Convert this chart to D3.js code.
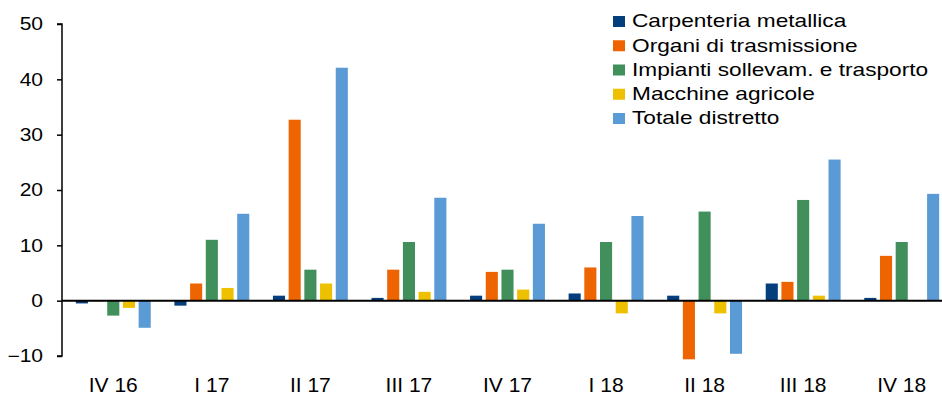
<!DOCTYPE html>
<html>
<head>
<meta charset="utf-8">
<script src="https://cdn.jsdelivr.net/npm/d3@7"></script>
<style>
  html, body { margin: 0; padding: 0; background: #fff; }
  svg { display: block; font-family: "Liberation Sans", Arial, sans-serif; }
</style>
</head>
<body>
<svg id="chart" width="942" height="394"></svg>
<script>
// Quarterly changes (%) by sector of the district
const categories = ["IV 16", "I 17", "II 17", "III 17", "IV 17", "I 18", "II 18", "III 18", "IV 18"];
const seriesNames = ["Carpenteria metallica", "Organi di trasmissione", "Impianti sollevam. e trasporto", "Macchine agricole", "Totale distretto"];
const carpenteria = [-0.5, -0.9, 0.9, 0.5, 0.9, 1.3, 0.9, 3.1, 0.5];
const organi      = [-0.1, 3.1, 32.7, 5.6, 5.2, 6.0, -10.6, 3.4, 8.1];
const impianti    = [-2.7, 11.0, 5.6, 10.6, 5.6, 10.6, 16.1, 18.2, 10.6];
const macchine    = [-1.3, 2.3, 3.1, 1.6, 2.0, -2.3, -2.3, 0.9, -0.1];
const totale      = [-4.9, 15.7, 42.1, 18.6, 13.9, 15.3, -9.6, 25.5, 19.3];
const yTicks = [-10, 0, 10, 20, 30, 40, 50];
const colors = ["#053e7c", "#ee6400", "#41905c", "#edc000", "#5b9bd5"];

const seriesValues = [carpenteria, organi, impianti, macchine, totale];

const svg = d3.select("#chart");

const x0 = d3.scaleBand()
  .domain(categories)
  .range([64, 951])
  .paddingInner(0.24)
  .paddingOuter(0.12);

const x1 = d3.scaleBand()
  .domain(seriesNames)
  .range([0, x0.bandwidth()])
  .paddingInner(0.23)
  .paddingOuter(0);

const y = d3.scaleLinear()
  .domain([-10, 50])
  .range([356, 24]);

// Bars
const groups = svg.append("g")
  .selectAll("g")
  .data(categories)
  .join("g")
  .attr("transform", d => `translate(${x0(d)},0)`);

groups.selectAll("rect")
  .data((c, i) => seriesNames.map((s, k) => ({ s, k, v: seriesValues[k][i] })))
  .join("rect")
  .attr("x", d => x1(d.s))
  .attr("width", x1.bandwidth())
  .attr("y", d => y(Math.max(0, d.v)))
  .attr("height", d => Math.abs(y(d.v) - y(0)))
  .attr("fill", d => colors[d.k]);

// Y axis
const yAxis = d3.axisLeft(y)
  .tickValues(yTicks)
  .tickSize(5)
  .tickFormat(d3.format("d"));

const gy = svg.append("g")
  .attr("transform", "translate(62,0)")
  .call(yAxis);
gy.select(".domain").attr("stroke", "#000").attr("stroke-width", 1.5)
  .attr("d", `M-5,${y(50)}H0V${y(-10)}H-5`);
gy.selectAll(".tick line").attr("stroke", "#000").attr("stroke-width", 1.5);
gy.selectAll(".tick text")
  .attr("x", 0)
  .attr("dy", "0.34em")
  .attr("transform", "translate(-19,0) scale(1.2,1)")
  .attr("fill", "#000")
  .style("font-size", "17.5px")
  .style("font-family", "'Liberation Sans', Arial, sans-serif");

// Zero line
svg.append("line")
  .attr("x1", 62).attr("x2", 942)
  .attr("y1", y(0)).attr("y2", y(0))
  .attr("stroke", "#000")
  .attr("stroke-width", 2);

// Category labels
svg.append("g")
  .selectAll("text")
  .data(categories)
  .join("text")
  .attr("x", d => x0(d) + x0.bandwidth() / 2)
  .attr("y", 391.5)
  .attr("text-anchor", "middle")
  .style("font-size", "21px")
  .attr("fill", "#000")
  .text(d => d);

// Legend
const legend = svg.append("g")
  .attr("transform", "translate(613,27.3)");
const items = legend.selectAll("g")
  .data(seriesNames)
  .join("g")
  .attr("transform", (d, i) => `translate(0,${i * 24.25})`);
items.append("rect")
  .attr("x", 0).attr("y", -11.3)
  .attr("width", 12).attr("height", 11)
  .attr("fill", (d, i) => colors[i]);
items.append("text")
  .attr("transform", "translate(19,0) scale(1.26,1)")
  .style("font-size", "18px")
  .attr("fill", "#000")
  .text(d => d);
</script>
</body>
</html>
